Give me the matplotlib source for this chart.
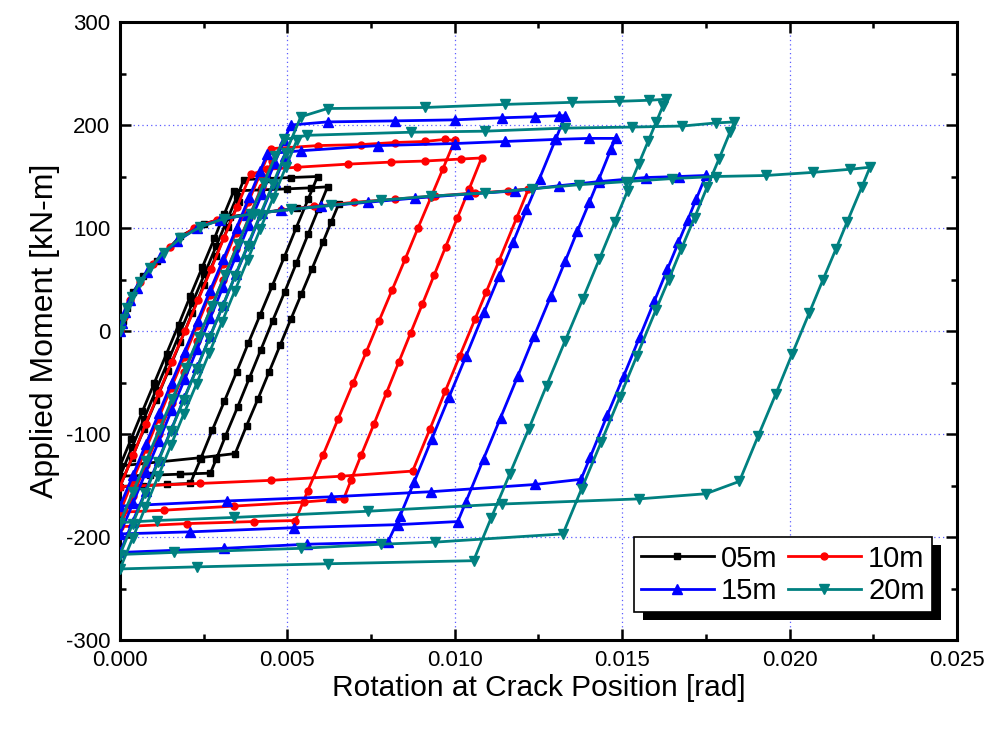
import matplotlib
matplotlib.use("Agg")
import matplotlib.pyplot as plt
from matplotlib.patches import Rectangle
from matplotlib.transforms import IdentityTransform
from matplotlib.ticker import MultipleLocator, FormatStrFormatter

plt.rcParams['font.family'] = ['Liberation Sans', 'DejaVu Sans']
plt.rcParams['axes.unicode_minus'] = False

# Rotation [rad] / applied moment [kN-m] histories for each crack position
rot_05 = [0, 0.00008, 0.0002, 0.0004, 0.0007, 0.0011, 0.0018, 0.0025, 0.0033, 0.0042, 0.0053, 0.00653,
          0.00631, 0.00606, 0.00573, 0.00542, 0.00511, 0.00478, 0.00445, 0.00412, 0.00378, 0.00344,
          0.0024, 0.0012, 0.0,
          0.00033, 0.00067, 0.00103, 0.00139, 0.00175, 0.0021, 0.00246, 0.00282, 0.00312, 0.0034,
          0.0042, 0.0050, 0.0057, 0.0062,
          0.00592, 0.00562, 0.00527, 0.00492, 0.00456, 0.00421, 0.00386, 0.00351, 0.00315, 0.00288, 0.0027,
          0.0018, 0.0009, 0.0,
          0.00036, 0.00072, 0.00108, 0.00144, 0.0018, 0.00216, 0.00252, 0.00288, 0.00324, 0.0035, 0.0037,
          0.0044, 0.0051, 0.0059,
          0.00562, 0.00526, 0.00491, 0.00455, 0.00419, 0.00383, 0.00348, 0.00312, 0.00276, 0.00241, 0.0021,
          0.0014, 0.0007, 0.0,
          0.00036, 0.00072, 0.00108, 0.00144, 0.0018, 0.00215, 0.00251, 0.00287, 0.00323, 0.00354]
mom_05 = [0, 10, 22, 38, 53, 68, 92, 104, 111, 115, 119, 123,
          106, 86, 60, 36, 12, -14, -40, -66, -92, -119,
          -123, -127, -131,
          -105, -78, -50, -22, 6, 34, 62, 90, 114, 136,
          137, 138, 139, 140,
          118, 94, 66, 38, 10, -18, -46, -74, -102, -124, -138,
          -139, -140, -141,
          -113, -85, -57, -29, -1, 27, 55, 83, 111, 131, 147,
          148, 149, 150,
          128, 100, 72, 44, 16, -12, -40, -68, -96, -124, -148,
          -149, -150, -151,
          -123, -95, -67, -39, -11, 17, 45, 73, 101, 125]

rot_10 = [0, 0.00012, 0.0003, 0.0006, 0.0010, 0.0015, 0.0022, 0.0029, 0.0038, 0.0048, 0.0058, 0.0070, 0.0082,
          0.0094, 0.0106, 0.0116, 0.0122,
          0.01185, 0.01132, 0.01094, 0.01061, 0.01015, 0.00972, 0.00926, 0.00874,
          0.0066, 0.0045, 0.0024, 0.0,
          0.0004, 0.00077, 0.00116, 0.00154, 0.00194, 0.00233, 0.00272, 0.0031, 0.00349, 0.0039,
          0.0044, 0.0053, 0.0068, 0.0081, 0.0091, 0.0102, 0.0108,
          0.01043, 0.01008, 0.00973, 0.00938, 0.00903, 0.00868, 0.00833, 0.00796, 0.00759, 0.00721, 0.0069, 0.00668,
          0.0055, 0.0034, 0.0013, 0.0,
          0.00038, 0.00077, 0.00115, 0.00153, 0.00192, 0.0023, 0.00268, 0.00307, 0.00345, 0.00383, 0.00418, 0.0045,
          0.0059, 0.0072, 0.0082, 0.0091, 0.0097, 0.0100,
          0.00964, 0.00929, 0.0089, 0.00852, 0.00813, 0.00774, 0.00736, 0.00697, 0.00652, 0.00607, 0.00561, 0.00524,
          0.0040, 0.0020, 0.0,
          0.00038, 0.00077, 0.00115, 0.00154, 0.00192, 0.00231, 0.00269, 0.00308, 0.00346, 0.00385, 0.00423, 0.00455]
mom_10 = [0, 14, 30, 48, 65, 82, 100, 108, 113, 117, 121, 125, 128, 131, 134, 136, 138,
          110, 68, 38, 12, -24, -58, -95, -136,
          -141, -145, -148, -151,
          -120, -90, -60, -30, 0, 30, 60, 90, 120, 152,
          157, 159, 162, 164, 165, 167, 168,
          138, 110, 82, 54, 26, -2, -30, -60, -90, -120, -145, -163,
          -166, -170, -174, -176,
          -145, -115, -85, -55, -25, 5, 35, 65, 95, 125, 152, 177,
          180, 181, 183, 184, 186, 185,
          157, 130, 100, 70, 40, 10, -20, -50, -85, -120, -155, -184,
          -185, -187, -190,
          -160, -130, -100, -70, -40, -10, 20, 50, 80, 110, 140, 165]

rot_15 = [0, 0.00005, 0.00015, 0.0003, 0.0005, 0.0008, 0.0012, 0.0017, 0.0023, 0.0030, 0.0038, 0.0048, 0.0060,
          0.0074, 0.0088, 0.0104, 0.0118, 0.0131, 0.0143, 0.0157, 0.0167, 0.0175,
          0.01721, 0.01696, 0.01668, 0.01635, 0.01596, 0.01552, 0.01504, 0.01455, 0.01405, 0.01377,
          0.0124, 0.0093, 0.0063, 0.0032, 0.0,
          0.00039, 0.00077, 0.00116, 0.00154, 0.00193, 0.00232, 0.0027, 0.00309, 0.00348, 0.00386, 0.00418, 0.0044,
          0.0054, 0.0077, 0.0100, 0.0115, 0.0130, 0.0140, 0.0148,
          0.01467, 0.01431, 0.01402, 0.01366, 0.0133, 0.01287, 0.01237, 0.01188, 0.01137, 0.01086, 0.01033, 0.01009,
          0.0083, 0.0052, 0.0021, 0.0,
          0.00039, 0.00077, 0.00116, 0.00154, 0.00193, 0.00231, 0.0027, 0.00308, 0.00347, 0.00385, 0.00424,
          0.00462, 0.0049, 0.0051,
          0.0062, 0.0082, 0.0100, 0.0114, 0.0124, 0.0131, 0.0133,
          0.01301, 0.01253, 0.01214, 0.01174, 0.01132, 0.01087, 0.01034, 0.00983, 0.00931, 0.00878, 0.00836, 0.0080,
          0.0056, 0.0031, 0.0,
          0.00038, 0.00077, 0.00115, 0.00154, 0.00192, 0.00231, 0.00269, 0.00308, 0.00346, 0.00385, 0.00423,
          0.00462, 0.00494]
mom_15 = [0, 8, 18, 30, 42, 57, 72, 87, 100, 108, 113, 117, 121, 125, 129, 133, 136, 141, 145, 149, 150, 151,
          128, 108, 86, 60, 29, -6, -44, -82, -122, -144,
          -149, -156, -161, -165, -170,
          -140, -110, -80, -50, -20, 10, 40, 70, 100, 130, 155, 172,
          175, 180, 182, 184, 186, 187, 187,
          177, 148, 125, 97, 68, 34, -5, -44, -84, -124, -166, -185,
          -188, -191, -195, -197,
          -167, -137, -107, -77, -47, -17, 13, 43, 73, 103, 133, 163, 185, 200,
          203, 204, 205, 207, 208, 209, 209,
          186, 148, 118, 86, 53, 18, -24, -64, -105, -147, -180, -205,
          -207, -211, -215,
          -185, -155, -125, -95, -65, -35, -5, 25, 55, 85, 115, 145, 170]

rot_20 = [0, 0.0001, 0.0002, 0.00035, 0.0006, 0.0009, 0.0013, 0.0018, 0.0024, 0.0031, 0.0040, 0.0051, 0.0063,
          0.0078, 0.0093, 0.0109, 0.0123, 0.0137, 0.0151, 0.0165, 0.0178, 0.0193, 0.0207, 0.0218, 0.0224,
          0.02216, 0.02172, 0.02139, 0.0210, 0.02058, 0.02008, 0.01959, 0.01906, 0.0185,
          0.0175, 0.0155, 0.0114, 0.0074, 0.0034, 0.0011, 0.0,
          0.00039, 0.00078, 0.00117, 0.00156, 0.00196, 0.00235, 0.00274, 0.00313, 0.00352, 0.00391, 0.0043,
          0.00464, 0.0049,
          0.0056, 0.0087, 0.0109, 0.0133, 0.0153, 0.0168, 0.0178, 0.01835,
          0.01822, 0.01789, 0.01754, 0.01716, 0.01677, 0.01639, 0.0160, 0.01544, 0.01493, 0.01437, 0.01379, 0.01323,
          0.0094, 0.0078, 0.0054, 0.0016, 0.0,
          0.00038, 0.00076, 0.00114, 0.00152, 0.0019, 0.00229, 0.00267, 0.00305, 0.00343, 0.00381, 0.00419,
          0.00457, 0.00495, 0.0054,
          0.0062, 0.0091, 0.0115, 0.0135, 0.0149, 0.0158, 0.0163,
          0.01621, 0.01602, 0.01577, 0.01549, 0.01516, 0.01478, 0.01432, 0.01382, 0.01329, 0.01274, 0.01221,
          0.01164, 0.01108, 0.01056,
          0.0062, 0.0023, 0.0,
          0.00038, 0.00076, 0.00114, 0.00152, 0.0019, 0.00229, 0.00267, 0.00305, 0.00343, 0.00381, 0.00419,
          0.00457, 0.00495, 0.00528]
mom_20 = [0, 12, 22, 33, 48, 61, 76, 90, 101, 109, 114, 118, 122, 127, 131, 134, 138, 142, 145, 148, 150, 151,
          154, 157, 159,
          140, 106, 80, 50, 17, -22, -61, -102, -146,
          -158, -163, -168, -175, -181, -184, -186,
          -156, -126, -96, -66, -36, -6, 24, 54, 84, 114, 144, 170, 186,
          190, 193, 194, 197, 198, 199, 202, 203,
          193, 167, 140, 110, 80, 50, 20, -24, -64, -108, -153, -197,
          -205, -207, -211, -215, -217,
          -187, -157, -127, -97, -67, -37, -7, 23, 53, 83, 113, 143, 173, 208,
          216, 217, 220, 222, 223, 224, 225,
          218, 203, 184, 162, 136, 106, 70, 31, -10, -53, -95, -139, -182, -223,
          -226, -229, -231,
          -201, -171, -141, -111, -81, -51, -21, 9, 39, 69, 99, 129, 159, 185]

series_labels = ["05m", "10m", "15m", "20m"]
series_colors = ["#000000", "#FF0000", "#0000FF", "#008080"]
series_markers = ["s", "o", "^", "v"]
series_msize = [5.0, 5.0, 6.5, 6.5]

x_ticks = [0.000, 0.005, 0.010, 0.015, 0.020, 0.025]
y_ticks = [-300, -200, -100, 0, 100, 200, 300]

fig = plt.figure(figsize=(9.95, 7.31), dpi=100, facecolor="white")
ax = fig.add_axes([120 / 995, 1 - 640 / 731, 837 / 995, 618 / 731])

data = [(rot_05, mom_05), (rot_10, mom_10), (rot_15, mom_15), (rot_20, mom_20)]
handles = []
for (xs, ys), lab, col, mk, ms in zip(data, series_labels, series_colors, series_markers, series_msize):
    h, = ax.plot(xs, ys, color=col, lw=2.0, marker=mk, ms=ms, mfc=col, mec=col, label=lab, zorder=3)
    handles.append(h)

ax.set_xlim(0, 0.025)
ax.set_ylim(-300, 300)
ax.set_xticks(x_ticks)
ax.set_yticks(y_ticks)
ax.xaxis.set_minor_locator(MultipleLocator(0.0025))
ax.yaxis.set_minor_locator(MultipleLocator(50))
ax.xaxis.set_major_formatter(FormatStrFormatter("%.3f"))
ax.yaxis.set_major_formatter(FormatStrFormatter("%d"))

ax.grid(True, which="major", color="#3333FF", linestyle=(0, (1, 2.5)), linewidth=0.9, alpha=0.8)
ax.set_axisbelow(True)

for sp in ax.spines.values():
    sp.set_linewidth(2.2)
ax.tick_params(which="both", direction="in", top=True, right=True, width=1.8, labelsize=16, pad=7)
ax.tick_params(which="major", length=8)
ax.tick_params(which="minor", length=4.5)

ax.set_xlabel("Rotation at Crack Position [rad]", fontsize=21.5, labelpad=2)
ax.set_ylabel("Applied Moment [kN-m]", fontsize=23, labelpad=4)

# row-wise legend layout: 05m 10m / 15m 20m
leg_order = [0, 2, 1, 3]
leg = ax.legend(handles=[handles[i] for i in leg_order], ncol=2, loc="lower right",
                bbox_to_anchor=(0.970, 0.045), borderaxespad=0, fontsize=21, frameon=True,
                fancybox=False, framealpha=1, edgecolor="black", handlelength=2.5,
                handletextpad=0.25, columnspacing=0.35, labelspacing=0.15, borderpad=0.25,
                markerscale=1.0)
leg.get_frame().set_linewidth(1.2)
leg.set_zorder(6)

fig.canvas.draw()
bb = leg.get_window_extent()
shadow = Rectangle((bb.x0 + 9, bb.y0 - 8), bb.width, bb.height, transform=IdentityTransform(),
                   facecolor="black", edgecolor="none", zorder=5.5, clip_on=False)
ax.add_artist(shadow)

fig.savefig("out.png", dpi=100, facecolor="white")
